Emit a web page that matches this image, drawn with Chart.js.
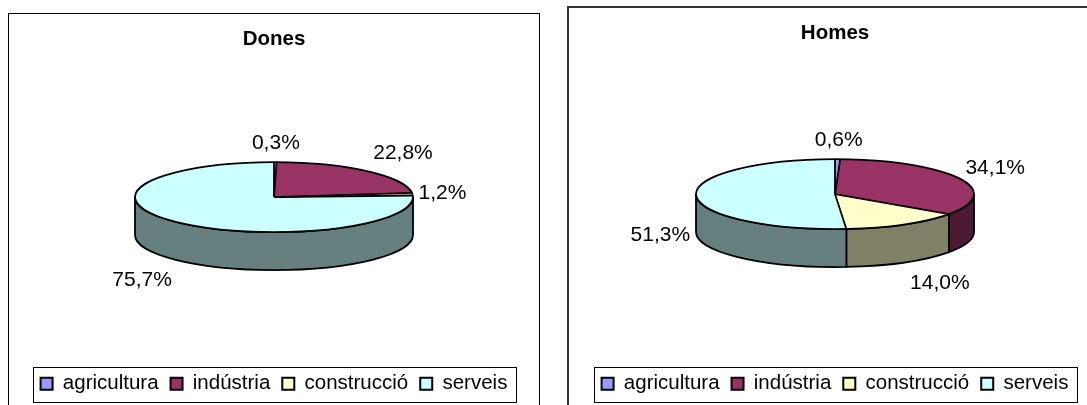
<!DOCTYPE html>
<html>
<head>
<meta charset="utf-8">
<script src="https://cdn.jsdelivr.net/npm/chart.js@4.4.1/dist/chart.umd.min.js"></script>
<style>
html,body{margin:0;padding:0;background:#fff;width:1087px;height:405px;overflow:hidden;position:relative;}
.panel{position:absolute;box-sizing:border-box;background:#fff;}
#p1{left:8px;top:13px;width:532px;height:460px;border:1px solid #000;}
#p2{left:567px;top:6px;width:560px;height:460px;border:2px solid #333;}
canvas{position:absolute;}
#c1{left:9px;top:14px;width:530px;height:400px;}
#c2{left:570px;top:8px;width:530px;height:406px;}
</style>
</head>
<body>
<div class="panel" id="p1"></div>
<div class="panel" id="p2"></div>
<canvas id="c1" width="530" height="400"></canvas>
<canvas id="c2" width="530" height="406"></canvas>
<script>
// ---- data ----
const categories = ['agricultura', 'indústria', 'construcció', 'serveis'];
const donesValues = [0.3, 22.8, 1.2, 75.7];
const homesValues = [0.6, 34.1, 14.0, 51.3];
const titles = ['Dones', 'Homes'];

// ---- styles ----
const topColors = ['#9999FF', '#993366', '#FFFFCC', '#CCFFFF'];
const sideColors = ['#4D4D80', '#4D1A33', '#808066', '#668080'];
const FONT = '"Liberation Sans", Arial, Helvetica, sans-serif';
const TILT = 35 / 139;      // vertical squash of the pie top
const DEPTH = 38 / 139;     // thickness relative to radius
const OUTLINE = 1.8;

Chart.defaults.font.family = FONT;
Chart.defaults.color = '#000';

function fmt(v) { return v.toFixed(1).replace('.', ',') + '%'; }

const pie3d = {
  id: 'pie3d',
  beforeDatasetsDraw(chart) {
    const arcs = chart.getDatasetMeta(0).data;
    const x = arcs[0].x, y = arcs[0].y, r = arcs[0].outerRadius;
    const rx = r, ry = r * TILT, d = r * DEPTH, ecy = y - d / 2;
    chart.$pie = { x, y, rx, ry, d, ecy };
    const ctx = chart.ctx;
    ctx.save();
    ctx.lineWidth = OUTLINE; ctx.strokeStyle = '#000'; ctx.lineJoin = 'round';
    arcs.forEach((arc, i) => {
      const a0 = Math.max(arc.startAngle, 0), a1 = Math.min(arc.endAngle, Math.PI);
      if (a1 <= a0) return;
      ctx.beginPath();
      ctx.ellipse(x, ecy, rx, ry, 0, a0, a1, false);
      ctx.lineTo(x + rx * Math.cos(a1), ecy + d + ry * Math.sin(a1));
      ctx.ellipse(x, ecy + d, rx, ry, 0, a1, a0, true);
      ctx.closePath();
      ctx.fillStyle = sideColors[i];
      ctx.fill(); ctx.stroke();
    });
    ctx.restore();
    ctx.save();
    ctx.translate(x, ecy); ctx.scale(1, TILT); ctx.translate(-x, -y);
  },
  afterDatasetsDraw(chart) {
    const ctx = chart.ctx;
    ctx.restore();
    const { x, rx, ry, d, ecy } = chart.$pie;
    const arcs = chart.getDatasetMeta(0).data;
    ctx.save();
    ctx.lineWidth = OUTLINE; ctx.strokeStyle = '#000'; ctx.lineJoin = 'round';
    ctx.beginPath(); ctx.ellipse(x, ecy, rx, ry, 0, 0, Math.PI * 2); ctx.stroke();
    arcs.forEach(arc => {
      ctx.beginPath(); ctx.moveTo(x, ecy);
      ctx.lineTo(x + rx * Math.cos(arc.startAngle), ecy + ry * Math.sin(arc.startAngle));
      ctx.stroke();
    });
    // data labels
    const vals = chart.data.datasets[0].data;
    ctx.font = '21px ' + FONT; ctx.fillStyle = '#000';
    ctx.textAlign = 'center'; ctx.textBaseline = 'middle';
    arcs.forEach((arc, i) => {
      const m = (arc.startAngle + arc.endAngle) / 2;
      const c = Math.cos(m), s = Math.sin(m);
      const txt = fmt(vals[i]);
      const w = ctx.measureText(txt).width;
      const ax = x + rx * c, ay = ecy + ry * s + (s > 0 ? d : 0);
      const dx = Math.sign(c) * Math.min(1, Math.abs(c) * 2) * (w / 2 + 6);
      const dy = Math.sign(s) * Math.min(1, Math.abs(s) * 1.3) * 20;
      ctx.fillText(txt, ax + dx, ay + dy + 1);
    });
    ctx.restore();
  },
  afterDraw(chart) {
    const lg = chart.legend;
    const pad = lg.options.labels.padding;
    const fs = lg.options.labels.font.size;
    const x0 = (lg.left + pad + lg.right - lg.lineWidths[0]) / 2;
    const x1 = x0 + lg.lineWidths[0] - pad;
    const y0 = lg.top + pad;
    const ctx = chart.ctx;
    ctx.save();
    ctx.strokeStyle = '#000'; ctx.lineWidth = 1;
    ctx.strokeRect(Math.round(x0 - 8) + 0.5, Math.round(y0 - 7) + 0.5,
                   Math.round(x1 - x0 + 16), Math.round(fs + 14));
    ctx.restore();
  }
};

function makeChart(id, title, values) {
  return new Chart(document.getElementById(id), {
    type: 'pie',
    data: {
      labels: categories,
      datasets: [{
        data: values,
        backgroundColor: topColors,
        borderWidth: 0,
        radius: 139,
        clip: false
      }]
    },
    options: {
      responsive: false,
      animation: false,
      events: [],
      layout: { padding: { top: 0, bottom: 10, left: 0, right: 0 } },
      plugins: {
        tooltip: { enabled: false },
        title: {
          display: true, text: title, color: '#000',
          font: { family: FONT, size: 20.5, weight: 'bold' },
          padding: { top: 13, bottom: 19 }
        },
        legend: {
          display: true, position: 'bottom',
          labels: {
            boxWidth: 12, boxHeight: 12, padding: 12, color: '#000',
            font: { family: FONT, size: 20.5 },
            generateLabels(chart) {
              const ds = chart.data.datasets[0];
              return chart.data.labels.map((l, i) => ({
                text: l, fillStyle: ds.backgroundColor[i], strokeStyle: '#000',
                lineWidth: 2, hidden: false, index: i, fontColor: '#000'
              }));
            }
          }
        }
      }
    },
    plugins: [pie3d]
  });
}

makeChart('c1', titles[0], donesValues);
makeChart('c2', titles[1], homesValues);
</script>
</body>
</html>
